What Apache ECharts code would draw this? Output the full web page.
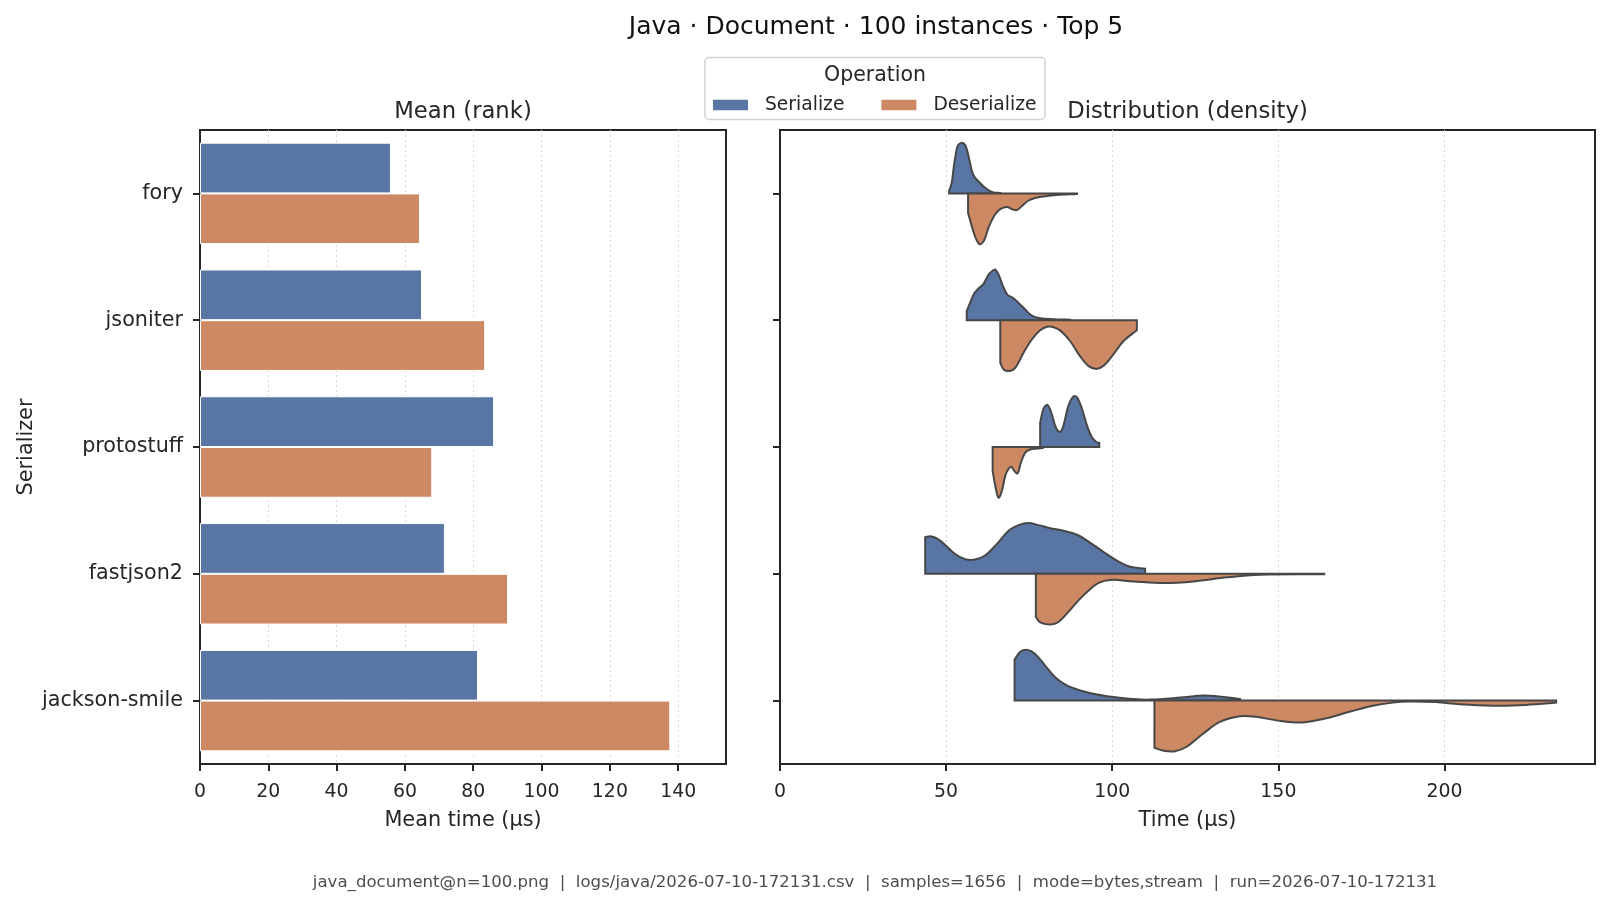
<!DOCTYPE html>
<html>
<head>
<meta charset="utf-8">
<title>Java · Document · 100 instances · Top 5</title>
<script src="https://cdn.jsdelivr.net/npm/echarts@6.0.0/dist/echarts.min.js"></script>
<style>
  html, body { margin: 0; padding: 0; background: #fff; }
  #main { width: 1610px; height: 906px; }
</style>
</head>
<body>
<div id="main"></div>
<script>
const categories = ['fory', 'jsoniter', 'protostuff', 'fastjson2', 'jackson-smile'];
const operations = ['Serialize', 'Deserialize'];

// mean time per serializer (µs)
const serializeMean = [55.9, 65.0, 86.1, 71.7, 81.4];
const deserializeMean = [64.4, 83.5, 68.0, 90.2, 137.7];

const meanTicks = [0, 20, 40, 60, 80, 100, 120, 140];
const timeTicks = [0, 50, 100, 150, 200];

// density profiles: time (µs) and density relative to each half's peak
const forySerT = [50.9, 51.7, 52.2, 52.8, 53.5, 54.7, 55.7, 56.5, 57.2, 57.9, 58.7, 59.7, 61.2, 62.8, 64.3, 66.3];
const forySerD = [0.05, 0.21, 0.47, 0.73, 0.94, 1.0, 0.96, 0.80, 0.60, 0.41, 0.31, 0.24, 0.14, 0.06, 0.02, 0.01];
const foryDesT = [56.6, 57.7, 58.7, 59.7, 60.4, 61.4, 62.8, 64.3, 65.8, 67.3, 68.5, 69.8, 71.3, 72.8, 74.8, 76.8, 79.3, 83.3, 89.4];
const foryDesD = [0.38, 0.64, 0.85, 0.98, 1.0, 0.93, 0.67, 0.46, 0.33, 0.28, 0.27, 0.31, 0.33, 0.25, 0.14, 0.09, 0.06, 0.03, 0.01];

const jsoniterSerT = [56.2, 57.2, 58.4, 59.7, 61.2, 62.8, 64.1, 64.8, 65.8, 67.3, 68.5, 70.1, 71.8, 73.8, 75.8, 78.3, 82.3, 87.3];
const jsoniterSerD = [0.18, 0.34, 0.52, 0.62, 0.71, 0.90, 0.98, 1.0, 0.90, 0.64, 0.50, 0.44, 0.34, 0.21, 0.09, 0.04, 0.02, 0.01];
const jsoniterDesT = [66.3, 67.3, 69.1, 70.8, 73.3, 75.8, 78.3, 80.3, 81.8, 84.3, 87.3, 90.3, 92.8, 95.2, 97.4, 100.4, 103.4, 107.4];
const jsoniterDesD = [0.84, 0.97, 1.0, 0.94, 0.64, 0.38, 0.20, 0.13, 0.13, 0.20, 0.41, 0.71, 0.90, 0.96, 0.90, 0.67, 0.41, 0.20];

const protostuffSerT = [78.3, 79.3, 80.5, 81.8, 83.0, 84.3, 85.3, 86.8, 88.4, 89.4, 90.9, 92.4, 93.9, 95.2, 96.1];
const protostuffSerD = [0.48, 0.75, 0.83, 0.65, 0.39, 0.30, 0.42, 0.81, 1.0, 0.98, 0.75, 0.42, 0.19, 0.10, 0.08];
const protostuffDesT = [64.0, 64.8, 65.8, 66.8, 67.8, 68.8, 69.6, 70.5, 71.5, 72.5, 73.8, 75.3, 77.3, 79.1];
const protostuffDesD = [0.47, 0.77, 1.0, 0.86, 0.57, 0.43, 0.39, 0.47, 0.52, 0.31, 0.11, 0.05, 0.03, 0.02];

const fastjsonSerT = [43.7, 45.2, 47.2, 49.7, 52.7, 55.7, 58.7, 61.7, 65.3, 68.8, 71.8, 74.8, 77.8, 81.3, 85.3, 89.4, 93.4, 97.4, 101.4, 105.4, 109.9];
const fastjsonSerD = [0.72, 0.74, 0.70, 0.57, 0.39, 0.29, 0.28, 0.36, 0.59, 0.85, 0.96, 1.0, 0.96, 0.90, 0.85, 0.77, 0.61, 0.43, 0.26, 0.14, 0.10];
const fastjsonDesT = [77.0, 78.3, 81.3, 83.8, 86.8, 89.9, 92.9, 95.9, 99.4, 106.4, 115.5, 124.5, 134.6, 144.6, 163.8];
const fastjsonDesD = [0.85, 0.96, 1.0, 0.95, 0.75, 0.52, 0.33, 0.18, 0.12, 0.15, 0.18, 0.15, 0.07, 0.02, 0.01];

const jacksonSerT = [70.6, 72.3, 74.5, 76.8, 79.8, 82.8, 86.3, 90.4, 95.4, 100.4, 106.4, 111.4, 120.5, 127.5, 133.5, 138.5];
const jacksonSerD = [0.81, 0.96, 1.0, 0.92, 0.69, 0.46, 0.30, 0.20, 0.12, 0.07, 0.03, 0.02, 0.06, 0.10, 0.07, 0.03];
const jacksonDesT = [112.7, 115.5, 118.9, 122.4, 127.4, 132.4, 138.4, 143.4, 149.4, 157.4, 164.4, 171.4, 178.4, 184.4, 189.4, 197.4, 204.4, 214.4, 222.4, 229.4, 233.6];
const jacksonDesD = [0.93, 0.99, 1.0, 0.91, 0.65, 0.42, 0.31, 0.32, 0.39, 0.43, 0.35, 0.22, 0.10, 0.04, 0.02, 0.03, 0.07, 0.10, 0.09, 0.06, 0.04];

const footerText = 'java_document@n=100.png  |  logs/java/2026-07-10-172131.csv  |  samples=1656  |  mode=bytes,stream  |  run=2026-07-10-172131';

const FONT = 'DejaVu Sans';
const INK = '#262626';
const COLORS = ['#5975a4', '#cc8963'];

// one entry per violin half (op 0 = upper half, op 1 = lower half)
const violins = [
  { cat: 0, op: 0, t: forySerT, d: forySerD },
  { cat: 0, op: 1, t: foryDesT, d: foryDesD },
  { cat: 1, op: 0, t: jsoniterSerT, d: jsoniterSerD },
  { cat: 1, op: 1, t: jsoniterDesT, d: jsoniterDesD },
  { cat: 2, op: 0, t: protostuffSerT, d: protostuffSerD },
  { cat: 2, op: 1, t: protostuffDesT, d: protostuffDesD },
  { cat: 3, op: 0, t: fastjsonSerT, d: fastjsonSerD },
  { cat: 3, op: 1, t: fastjsonDesT, d: fastjsonDesD },
  { cat: 4, op: 0, t: jacksonSerT, d: jacksonSerD },
  { cat: 4, op: 1, t: jacksonDesT, d: jacksonDesD }
];

function renderHalfViolin(params, api) {
  const v = violins[api.value(2)];
  const center = api.coord([0, v.cat])[1];
  const half = api.size([0, 1])[1] * 0.4;
  const sign = v.op === 0 ? -1 : 1;
  const last = v.t.length - 1;
  const pts = [];
  const x0 = api.coord([v.t[0], v.cat])[0];
  const x1 = api.coord([v.t[last], v.cat])[0];
  // corner points are doubled so the smoothing keeps the flat cut ends sharp
  pts.push([x0, center], [x0, center]);
  v.t.forEach((t, i) => {
    const p = [api.coord([t, v.cat])[0], center + sign * v.d[i] * half];
    pts.push(p);
    if (i === 0 || i === last) pts.push(p.slice());
  });
  pts.push([x1, center], [x1, center]);
  return {
    type: 'polygon',
    shape: { points: pts, smooth: 0.35 },
    style: { fill: COLORS[v.op], stroke: '#474747', lineWidth: 2 }
  };
}

function valueAxis(gridIndex, max, interval, ticks, name) {
  return {
    gridIndex: gridIndex,
    type: 'value',
    min: 0,
    max: max,
    interval: interval,
    name: name,
    nameLocation: 'middle',
    nameGap: 46,
    nameMoveOverlap: false,
    nameTextStyle: { fontFamily: FONT, fontSize: 20.8, color: INK },
    axisLine: { show: true, onZero: false, lineStyle: { color: INK, width: 2 } },
    axisTick: { show: true, length: 7, customValues: ticks, lineStyle: { color: INK, width: 2 } },
    axisLabel: { customValues: ticks, fontFamily: FONT, fontSize: 18.9, color: INK, margin: 19 },
    splitLine: { show: true, lineStyle: { color: '#d8d8d8', width: 1, type: [2, 3] } }
  };
}

function categoryAxis(gridIndex, showLabels) {
  const axis = {
    gridIndex: gridIndex,
    type: 'category',
    data: categories,
    inverse: true,
    axisLine: { show: true, lineStyle: { color: INK, width: 2 } },
    axisTick: { show: true, alignWithLabel: true, length: 7, lineStyle: { color: INK, width: 2 } },
    axisLabel: { show: showLabels, fontFamily: FONT, fontSize: 20.7, color: INK, margin: 17, padding: [8, 0, 0, 0] },
    splitLine: { show: false }
  };
  if (showLabels) {
    axis.name = 'Serializer';
    axis.nameLocation = 'middle';
    axis.nameRotate = 90;
    axis.nameGap = 163;
    axis.nameMoveOverlap = false;
    axis.nameTextStyle = { fontFamily: FONT, fontSize: 20.8, color: INK };
  }
  return axis;
}

function label(text, x, y, size, color) {
  return {
    type: 'text',
    x: x,
    y: y,
    style: {
      text: text,
      align: 'center',
      verticalAlign: 'middle',
      fontFamily: FONT,
      fontSize: size,
      fill: color || INK
    }
  };
}

const option = {
  animation: false,
  backgroundColor: '#fff',
  grid: [
    { left: 200, top: 130, width: 526, height: 634, show: true, borderColor: INK, borderWidth: 2, outerBoundsMode: 'none' },
    { left: 780, top: 130, width: 815, height: 634, show: true, borderColor: INK, borderWidth: 2, outerBoundsMode: 'none' }
  ],
  legend: {
    data: operations,
    left: 711,
    top: 94,
    padding: 0,
    icon: 'rect',
    itemWidth: 37,
    itemHeight: 12.5,
    itemGap: 35,
    selectedMode: false,
    textStyle: { fontFamily: FONT, fontSize: 18.7, color: INK, lineHeight: 22, padding: [0, 0, 0, 11] }
  },
  xAxis: [
    valueAxis(0, 154, 20, meanTicks, 'Mean time (µs)'),
    valueAxis(1, 245.3, 50, timeTicks, 'Time (µs)')
  ],
  yAxis: [categoryAxis(0, true), categoryAxis(1, false)],
  series: [
    {
      name: operations[0],
      type: 'bar',
      xAxisIndex: 0,
      yAxisIndex: 0,
      data: serializeMean,
      barWidth: '40%',
      barGap: '0%',
      itemStyle: { color: COLORS[0], borderColor: '#fff', borderWidth: 1 }
    },
    {
      name: operations[1],
      type: 'bar',
      xAxisIndex: 0,
      yAxisIndex: 0,
      data: deserializeMean,
      barWidth: '40%',
      barGap: '0%',
      itemStyle: { color: COLORS[1], borderColor: '#fff', borderWidth: 1 }
    },
    {
      name: 'density',
      type: 'custom',
      xAxisIndex: 1,
      yAxisIndex: 1,
      clip: true,
      silent: true,
      renderItem: renderHalfViolin,
      encode: { x: 0, y: 1 },
      data: violins.map((v, i) => [v.t[0], v.cat, i])
    }
  ],
  graphic: [
    {
      type: 'rect',
      shape: { x: 705, y: 57.5, width: 340, height: 62, r: 4 },
      style: { fill: 'rgba(255,255,255,0.8)', stroke: '#d4d4d4', lineWidth: 1.5 }
    },
    label('Operation', 875, 75.5, 20.5),
    label('Java · Document · 100 instances · Top 5', 876, 27.5, 25, '#111'),
    label('Mean (rank)', 463, 112, 22.7),
    label('Distribution (density)', 1187.5, 112, 22.7),
    label(footerText, 875, 883, 16.6, '#4d4d4d')
  ]
};

const chart = echarts.init(document.getElementById('main'));
chart.setOption(option);
</script>
</body>
</html>
